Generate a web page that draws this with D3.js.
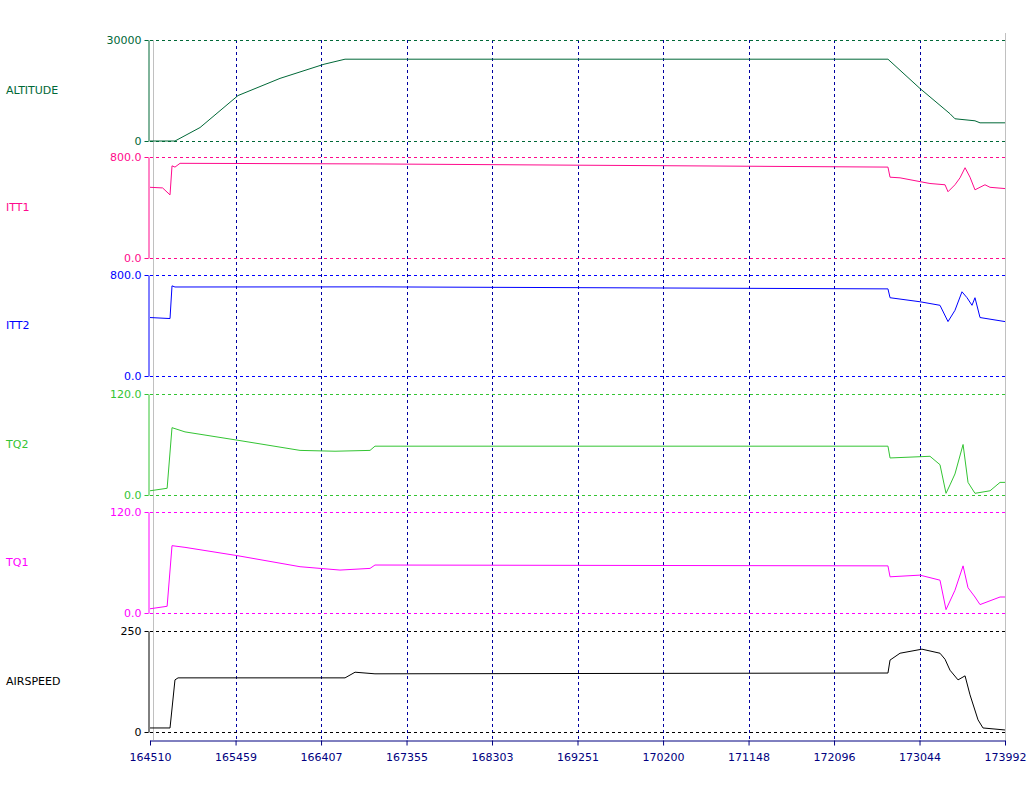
<!DOCTYPE html>
<html><head><meta charset="utf-8">
<script src="https://cdn.jsdelivr.net/npm/d3@7"></script>
<style>body{margin:0;background:#fff}text{font-family:"DejaVu Sans",sans-serif;font-size:11px}</style>
</head><body><svg id="chart" width="1035" height="795"></svg>
<script>
var xTicks = [164510,165459,166407,167355,168303,169251,170200,171148,172096,173044,173992];

var altT = [164510,164787,165065,165486,165952,166440,166673,172694,173049,173382,173437,173659,173715,173992];
var altV = [0,0,4000,13500,18600,22800,24300,24300,15600,8100,6600,6000,5400,5400];

var itt1T = [164510,164650,164732,164754,164787,164843,167005,172694,172717,172828,173160,173327,173360,173437,173493,173549,173604,173659,173770,173826,173992];
var itt1V = [560,555,500,730,720,750,745,720,640,635,590,580,525,580,635,715,640,540,580,560,550];

var itt2T = [164510,164732,164754,164787,167005,172694,172717,173049,173271,173360,173437,173515,173571,173626,173659,173715,173992];
var itt2V = [463,455,714,705,706,690,620,588,560,431,520,667,620,560,620,463,431];

var tq2T = [164510,164700,164754,164898,165486,166174,166562,166950,167005,172694,172717,173160,173271,173338,173382,173437,173527,173582,173659,173826,173937,173992];
var tq2V = [5,8,80,75,65,53,52,53,58,58,44,46,36,2,12,25,60,15,2,5,15,15];

var tq1T = [164510,164700,164754,164898,165486,166174,166617,166950,167005,172694,172717,173049,173271,173338,173437,173527,173582,173659,173715,173937,173992];
var tq1V = [5,8,80,78,68,55,51,53,57,56,43,45,39,4,27,56,30,19,10,19,19];

var spdT = [164510,164732,164787,164821,166673,166784,167005,172694,172717,172828,173071,173271,173327,173382,173471,173549,173604,173693,173748,173992];
var spdV = [10,10,129,134,134,148,144,146,178,195,205,195,180,153,129,139,92,30,10,5];

var panels = [
  {name:"ALTITUDE", t:altT, v:altV, max:30000, fmt:d3.format("d"), color:"#006837", top:40},
  {name:"ITT1", t:itt1T, v:itt1V, max:800, fmt:d3.format(".1f"), color:"#ff0a8c", top:157},
  {name:"ITT2", t:itt2T, v:itt2V, max:800, fmt:d3.format(".1f"), color:"#0000ff", top:275},
  {name:"TQ2", t:tq2T, v:tq2V, max:120, fmt:d3.format(".1f"), color:"#33c433", top:394},
  {name:"TQ1", t:tq1T, v:tq1V, max:120, fmt:d3.format(".1f"), color:"#ff00ff", top:512},
  {name:"AIRSPEED", t:spdT, v:spdV, max:250, fmt:d3.format("d"), color:"#000000", top:631}
];
var ph = 101;
var svg = d3.select("#chart");
var x = d3.scaleLinear().domain([164510,173992]).range([150,1005]);

svg.append("line").attr("x1",1005.5).attr("x2",1005.5).attr("y1",33).attr("y2",740).attr("stroke","#c0c0c0");
svg.append("line").attr("x1",153.5).attr("x2",153.5).attr("y1",40).attr("y2",740).attr("stroke","#c0c0c0");

svg.selectAll("line.grid").data(xTicks.slice(1,-1)).enter().append("line")
  .attr("x1",function(d){return Math.round(x(d))+0.5;}).attr("x2",function(d){return Math.round(x(d))+0.5;})
  .attr("y1",40).attr("y2",740).attr("stroke","#0000a0").attr("stroke-dasharray","3,3");

panels.forEach(function(p){
  var y = d3.scaleLinear().domain([0,p.max]).range([p.top+ph,p.top]);
  var g = svg.append("g");
  [0,p.max].forEach(function(v){
    g.append("line").attr("x1",150).attr("x2",1005).attr("y1",y(v)+0.5).attr("y2",y(v)+0.5)
      .attr("stroke",p.color).attr("stroke-dasharray","3,3");
  });
  g.append("g").attr("transform","translate(148.5,0)")
    .call(d3.axisLeft(y).tickValues([0,p.max]).tickFormat(p.fmt).tickSize(4).tickSizeOuter(0))
    .call(function(a){a.selectAll("path,line").attr("stroke",p.color);
      a.selectAll("text").attr("fill",p.color).style("font-size","11px").style("font-family","DejaVu Sans");});
  g.append("text").attr("x",6).attr("y",p.top+ph/2).attr("dy","0.35em").attr("fill",p.color).text(p.name);
  var data = p.t.map(function(t,i){return [t,p.v[i]];});
  g.append("path").datum(data).attr("fill","none").attr("stroke",p.color).attr("stroke-width",1)
    .attr("d",d3.line().x(function(d){return x(d[0]);}).y(function(d){return y(d[1]);}));
});

svg.append("g").attr("transform","translate(0,740.5)")
  .call(d3.axisBottom(x).tickValues(xTicks).tickFormat(d3.format("d")).tickSize(5).tickSizeOuter(0))
  .call(function(a){a.selectAll("path,line").attr("stroke","#000080");
    a.selectAll("text").attr("fill","#000080").attr("dy","1.1em").style("font-size","11px").style("font-family","DejaVu Sans");});
</script></body></html>
